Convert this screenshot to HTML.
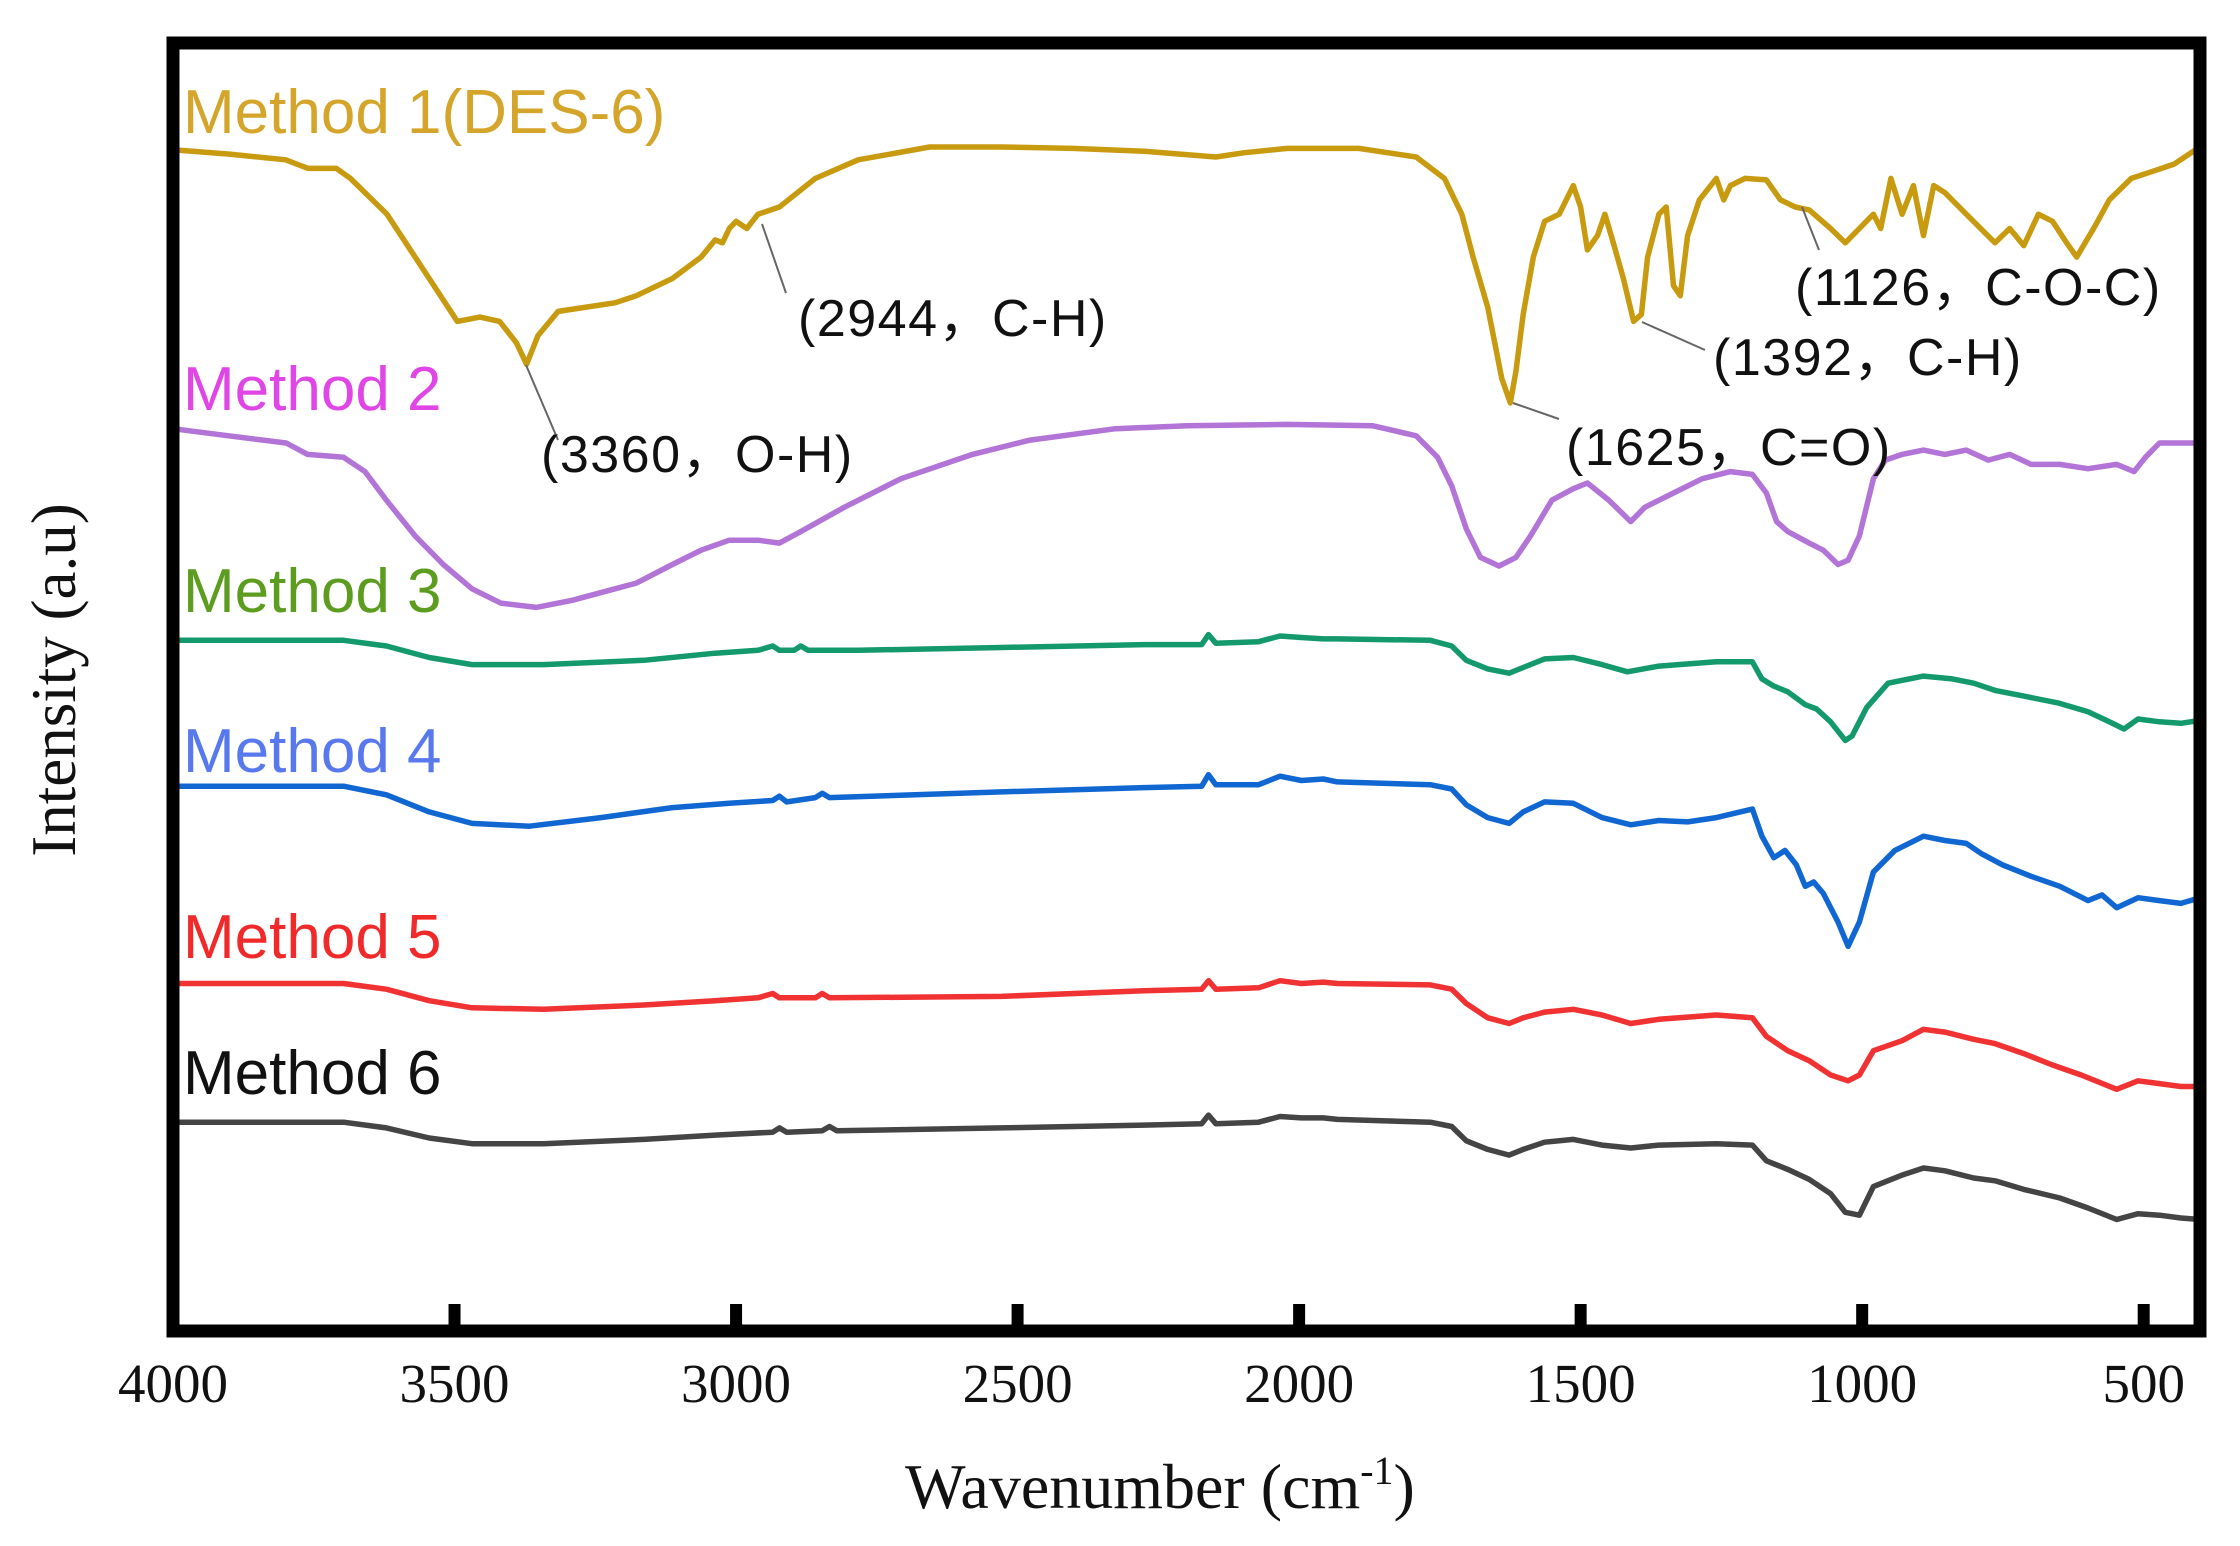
<!DOCTYPE html>
<html><head><meta charset="utf-8"><style>
html,body{margin:0;padding:0;background:#fff;}
svg{display:block;}
</style></head><body>
<svg id="chart" width="2240" height="1546" viewBox="0 0 2240 1546" xmlns="http://www.w3.org/2000/svg">
<rect x="0" y="0" width="2240" height="1546" fill="#fff"/>
<g id="series"></g>
<g id="annots" font-family="'Liberation Sans','Noto Sans CJK SC',sans-serif" font-size="52" letter-spacing="1.5" fill="#111"></g>
<g id="labels" font-family="'Liberation Sans',sans-serif" font-size="62"></g>
<rect x="173" y="43" width="2027" height="1288" fill="none" stroke="#000" stroke-width="13"/>
<g id="xaxis" font-family="'Liberation Serif',serif" font-size="55" fill="#111"></g>
<text x="1160" y="1508" text-anchor="middle" font-family="'Liberation Serif',serif" font-size="64" fill="#111">Wavenumber (cm<tspan dy="-24" font-size="40">-1</tspan><tspan dy="24">)</tspan></text>
<text transform="translate(75,680) rotate(-90)" text-anchor="middle" font-family="'Liberation Serif',serif" font-size="63" fill="#111">Intensity (a.u)</text>
</svg>
<script>
const xTicks = [4000, 3500, 3000, 2500, 2000, 1500, 1000, 500];
const seriesNames = ["Method 1(DES-6)", "Method 2", "Method 3", "Method 4", "Method 5", "Method 6"];
const m1 = [[4000,826],[3900,823],[3800,819],[3760,813],[3710,813],[3685,806],[3620,781],[3545,736],[3495,706],[3455,709],[3420,706],[3390,691],[3372,676],[3352,696],[3316,713],[3266,716],[3215,719],[3177,724],[3113,736],[3062,751],[3037,763],[3024,761],[3012,771],[3000,776],[2981,771],[2961,781],[2923,786],[2859,806],[2783,819],[2656,828],[2529,828],[2402,827],[2275,825],[2148,821],[2097,824],[2021,827],[1894,827],[1792,821],[1742,806],[1711,781],[1691,751],[1665,716],[1640,666],[1625,649],[1615,671],[1602,711],[1584,751],[1564,776],[1538,781],[1513,801],[1500,786],[1488,756],[1470,766],[1457,781],[1442,761],[1424,736],[1406,706],[1392,711],[1381,751],[1361,781],[1348,786],[1335,731],[1323,724],[1310,766],[1289,791],[1259,806],[1246,791],[1234,801],[1208,806],[1170,805],[1145,791],[1119,786],[1094,784],[1056,771],[1030,761],[1005,771],[980,781],[967,771],[949,806],[929,781],[909,801],[891,766],[873,801],[853,796],[815,781],[764,761],[738,771],[713,759],[687,781],[662,776],[637,761],[619,751],[604,761],[586,773],[561,791],[522,806],[484,811],[446,816],[408,826],[400,826]];
const m2 = [[4000,631],[3901,626],[3799,621],[3761,613],[3697,611],[3659,601],[3621,581],[3570,556],[3520,536],[3469,519],[3418,509],[3355,506],[3291,511],[3215,519],[3177,523],[3113,536],[3062,546],[3012,553],[2961,553],[2923,551],[2885,559],[2808,576],[2707,596],[2580,613],[2478,623],[2326,631],[2199,633],[2021,634],[1869,633],[1792,626],[1754,611],[1729,591],[1703,561],[1678,541],[1645,535],[1615,541],[1589,556],[1551,581],[1513,589],[1488,593],[1450,581],[1411,566],[1386,576],[1335,586],[1284,596],[1234,601],[1195,599],[1170,586],[1152,566],[1132,559],[1094,551],[1069,546],[1043,536],[1025,539],[1005,556],[980,596],[959,609],[929,613],[891,616],[853,613],[815,616],[776,609],[738,613],[700,606],[649,606],[599,603],[548,606],[517,601],[497,611],[472,621],[434,621],[400,621]];
const m3 = [[4000,483],[3697,483],[3621,479],[3545,471],[3469,466],[3342,466],[3164,469],[3037,474],[2961,476],[2935,479],[2923,476],[2897,476],[2885,479],[2872,476],[2783,476],[2529,478],[2275,480],[2173,480],[2161,487],[2148,481],[2072,482],[2034,486],[1996,485],[1957,484],[1932,484],[1767,483],[1729,479],[1703,469],[1665,463],[1627,460],[1602,464],[1564,470],[1513,471],[1462,466],[1417,461],[1361,465],[1259,468],[1195,468],[1178,456],[1157,451],[1132,447],[1101,438],[1081,435],[1056,426],[1030,413],[1018,416],[992,436],[954,453],[891,458],[840,456],[802,453],[764,448],[713,444],[650,439],[599,433],[561,426],[535,421],[510,428],[472,426],[434,425],[400,427]];
const m4 = [[4000,381],[3697,381],[3621,375],[3545,363],[3469,355],[3367,353],[3240,359],[3113,366],[3012,369],[2935,371],[2923,374],[2910,370],[2859,373],[2847,376],[2834,373],[2529,377],[2275,380],[2173,381],[2161,389],[2148,382],[2072,382],[2034,388],[1996,385],[1957,386],[1932,384],[1767,382],[1729,379],[1703,368],[1665,359],[1627,355],[1602,363],[1564,370],[1513,369],[1462,359],[1411,354],[1361,357],[1310,356],[1259,359],[1195,365],[1178,346],[1157,331],[1137,336],[1117,326],[1101,311],[1086,314],[1069,306],[1043,286],[1025,269],[1005,286],[980,321],[942,336],[891,346],[853,343],[815,341],[789,334],[751,326],[700,318],[649,311],[599,301],[574,305],[548,296],[510,303],[472,301],[434,299],[400,303]];
const m5 = [[4000,243],[3697,243],[3621,239],[3545,231],[3469,226],[3342,225],[3164,228],[3037,231],[2961,233],[2935,236],[2923,233],[2859,233],[2847,236],[2834,233],[2529,234],[2275,238],[2173,239],[2161,245],[2148,239],[2072,240],[2034,245],[1996,243],[1957,244],[1932,243],[1767,242],[1729,239],[1703,229],[1665,219],[1627,215],[1602,219],[1564,223],[1513,225],[1462,221],[1411,215],[1361,218],[1259,221],[1195,219],[1170,206],[1132,196],[1094,189],[1056,179],[1025,175],[1005,179],[980,196],[929,203],[891,211],[853,209],[802,204],[764,201],[713,194],[662,186],[611,179],[548,169],[510,175],[472,173],[434,171],[400,171]];
const m6 = [[4000,146],[3697,146],[3621,142],[3545,135],[3469,131],[3342,131],[3164,134],[3037,137],[2935,139],[2923,142],[2910,139],[2847,140],[2834,143],[2821,140],[2529,142],[2275,144],[2173,145],[2161,151],[2148,145],[2072,146],[2034,150],[1996,149],[1957,149],[1932,148],[1767,146],[1729,143],[1703,133],[1665,127],[1627,123],[1602,127],[1564,132],[1513,134],[1462,130],[1411,128],[1361,130],[1259,131],[1195,130],[1170,119],[1132,113],[1094,106],[1056,96],[1030,83],[1005,81],[980,101],[929,109],[891,114],[853,112],[802,107],[764,105],[713,99],[649,93],[599,86],[548,78],[510,82],[472,81],[434,79],[400,78]];
const annotText = ["(3360，O-H)", "(2944，C-H)", "(1625，C=O)", "(1392，C-H)", "(1126，C-O-C)"];

const NS = "http://www.w3.org/2000/svg";
const X0 = 173, X1 = 2200, W0 = 4000, W1 = 400;
function xs(w){ return X0 + (W0 - w) * (X1 - X0) / (W0 - W1); }
function ys(v){ return 1331 - v * 1.43; }

const colors = ["#c89a10", "#b274d6", "#14996c", "#1167d2", "#f03232", "#444444"];
const labelColors = ["#d4a52a", "#e046e6", "#5c9c1e", "#5878ee", "#f02a2a", "#111111"];
const labelPos = [[183,133],[183,410],[183,612],[183,772],[183,958],[183,1094]];
const allSeries = [m1, m2, m3, m4, m5, m6];
const sg = document.getElementById("series");
allSeries.forEach((s, i) => {
  const p = document.createElementNS(NS, "path");
  p.setAttribute("d", s.map((pt, j) => (j ? "L" : "M") + xs(pt[0]).toFixed(1) + " " + ys(pt[1]).toFixed(1)).join(" "));
  p.setAttribute("fill", "none");
  p.setAttribute("stroke", colors[i]);
  p.setAttribute("stroke-width", "5.5");
  p.setAttribute("stroke-linejoin", "round");
  
  
  sg.appendChild(p);
});

const lg = document.getElementById("labels");
seriesNames.forEach((n, i) => {
  const t = document.createElementNS(NS, "text");
  t.setAttribute("x", labelPos[i][0]);
  t.setAttribute("y", labelPos[i][1]);
  t.setAttribute("fill", labelColors[i]);
  t.textContent = n;
  
  
  lg.appendChild(t);
});

const annotPos = [[541,472],[798,336],[1566,465],[1713,375],[1795,305]];
const leaders = [[526,365,558,440],[762,224,786,293],[1513,403,1559,419],[1642,322,1705,350],[1802,207,1819,250]];
const ag = document.getElementById("annots");
annotText.forEach((s, i) => {
  const l = document.createElementNS(NS, "line");
  l.setAttribute("x1", leaders[i][0]); l.setAttribute("y1", leaders[i][1]);
  l.setAttribute("x2", leaders[i][2]); l.setAttribute("y2", leaders[i][3]);
  l.setAttribute("stroke", "#666"); l.setAttribute("stroke-width", "2");
  
  
  ag.appendChild(l);
  const t = document.createElementNS(NS, "text");
  t.setAttribute("x", annotPos[i][0]); t.setAttribute("y", annotPos[i][1]);
  t.textContent = s;
  
  
  ag.appendChild(t);
});

const xg = document.getElementById("xaxis");
xTicks.forEach(v => {
  const x = xs(v);
  const tk = document.createElementNS(NS, "line");
  tk.setAttribute("x1", x); tk.setAttribute("x2", x);
  tk.setAttribute("y1", 1331); tk.setAttribute("y2", 1304);
  tk.setAttribute("stroke", "#000"); tk.setAttribute("stroke-width", "12");
  
  
  xg.appendChild(tk);
  const t = document.createElementNS(NS, "text");
  t.setAttribute("x", x); t.setAttribute("y", 1402);
  t.setAttribute("text-anchor", "middle");
  t.textContent = v;
  
  
  xg.appendChild(t);
});
</script>
</body></html>
